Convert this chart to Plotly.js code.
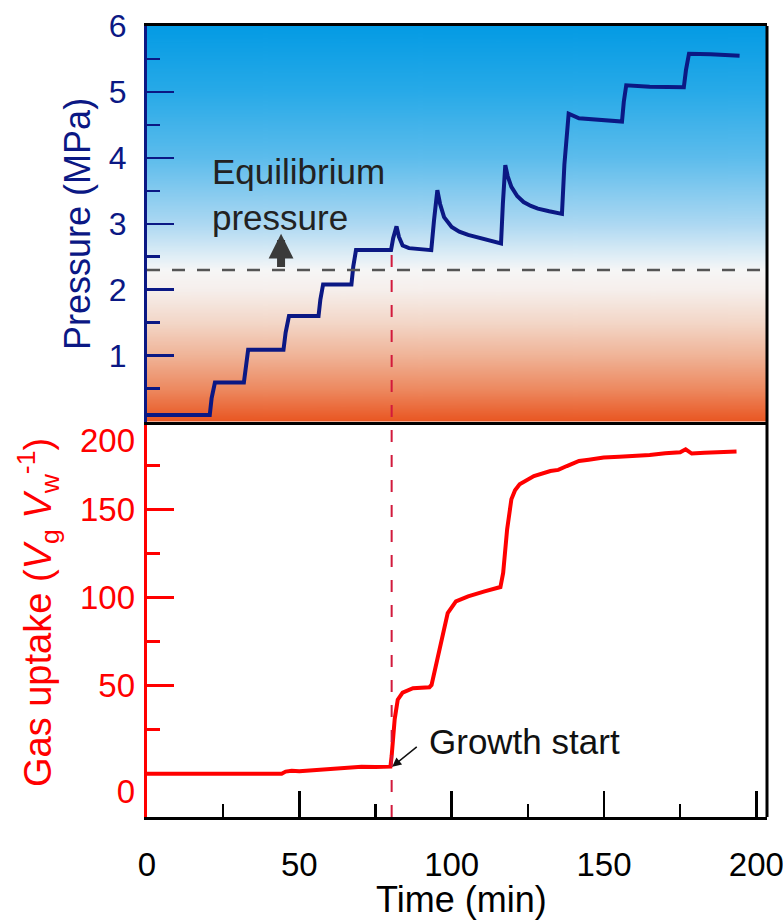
<!DOCTYPE html>
<html>
<head>
<meta charset="utf-8">
<script src="https://cdn.plot.ly/plotly-3.0.1.min.js"></script>
<style>
  html, body { margin: 0; padding: 0; background: #ffffff; }
  #chart { width: 783px; height: 921px; }
</style>
</head>
<body>
<div id="chart"></div>
<script>
// ---------------- data ----------------
const timeP = [0, 20.6, 21.2, 22.3, 31.8, 32.4, 33.2, 44.8, 45.5, 46.6, 56.3, 56.9, 57.8, 67.1, 67.7, 68.6,
  80.1, 80.8, 81.9, 82.7, 83.9, 86, 93.3, 94.2, 95.3, 96.2, 97.5, 100, 102.5, 105.4, 110, 116.2,
  116.8, 117.6, 118.4, 119.6, 121.5, 123.6, 126, 128.3, 132, 136.2, 137, 138.4, 141.8, 148, 155.9,
  156.5, 157.3, 165, 176.2, 176.9, 177.9, 185, 194.5];
const pressure = [0.10, 0.10, 0.35, 0.59, 0.59, 0.85, 1.09, 1.09, 1.35, 1.60, 1.60, 1.85, 2.08, 2.08, 2.35, 2.60,
  2.60, 2.78, 2.96, 2.80, 2.67, 2.63, 2.60, 3.05, 3.51, 3.30, 3.10, 2.95, 2.88, 2.83, 2.77, 2.70,
  3.30, 3.89, 3.72, 3.56, 3.42, 3.33, 3.27, 3.23, 3.19, 3.15, 3.90, 4.67, 4.60, 4.58, 4.55,
  4.85, 5.10, 5.08, 5.07, 5.33, 5.58, 5.57, 5.55];

const timeG = [0, 44.2, 45.5, 47.5, 50, 54.3, 58, 62.3, 66, 70.4, 75, 79.9, 80.3, 80.8, 81.3, 82.3, 83.9,
  87.3, 92.7, 93.4, 94.7, 96.7, 98.7, 101.4, 105.4, 110.8, 116, 116.9, 118.2, 119.6, 120.8, 122.3,
  127, 132.4, 135, 137.8, 141.8, 145, 149.9, 155, 159.3, 165, 170.1, 175, 176.8, 178.8, 183, 186.3, 190, 193.5];
const gasUptake = [0, 0, 1.2, 1.6, 1.4, 2.0, 2.3, 2.8, 3.2, 3.9, 3.8, 4.0, 10, 22, 31, 42, 46,
  48.5, 49.1, 50.4, 60.8, 76, 91.2, 97.8, 100.7, 103.5, 106, 114, 138.7, 155.8, 161, 164.3,
  169, 171.9, 172.5, 174.7, 177.6, 178.3, 179.5, 180, 180.4, 181, 182, 182.5, 184.2, 181.8, 182.3, 182.4, 182.6, 183];

const equilibriumPressure = 2.3;   // MPa
const growthStartTime = 80.3;      // min
const growthStartUptake = 4;       // Vg/Vw

const xTickVals = [0, 50, 100, 150, 200];
const pTickVals = [0, 1, 2, 3, 4, 5, 6];
const pTickText = ['', '1', '2', '3', '4', '5', '6'];
const gasLabelPos = [-10, 50, 100, 150, 189];
const gasLabelText = ['0', '50', '100', '150', '200'];

// ---------------- styling ----------------
const NAVY = '#0b1884';
const RED = '#ff0000';
const FONT = 'Liberation Sans, Arial, Helvetica, sans-serif';
const X_RANGE = [0, 203.5];
const P_RANGE = [0, 6];
const G_RANGE = [-24.6, 200];

// gradient background for the pressure panel
function gradientURL() {
  const c = document.createElement('canvas');
  c.width = 8; c.height = 600;
  const g = c.getContext('2d');
  const gr = g.createLinearGradient(0, 0, 0, 600);
  gr.addColorStop(0.000, 'rgb(4,155,228)');
  gr.addColorStop(0.167, 'rgb(40,170,232)');
  gr.addColorStop(0.333, 'rgb(92,188,236)');
  gr.addColorStop(0.500, 'rgb(172,216,242)');
  gr.addColorStop(0.583, 'rgb(224,238,246)');
  gr.addColorStop(0.617, 'rgb(246,246,246)');
  gr.addColorStop(0.667, 'rgb(246,239,236)');
  gr.addColorStop(0.750, 'rgb(243,215,200)');
  gr.addColorStop(0.833, 'rgb(240,180,152)');
  gr.addColorStop(0.917, 'rgb(237,138,97)');
  gr.addColorStop(1.000, 'rgb(233,86,34)');
  g.fillStyle = gr;
  g.fillRect(0, 0, 8, 600);
  return c.toDataURL('image/png');
}

const traces = [
  {
    x: timeP, y: pressure, xaxis: 'x2', yaxis: 'y',
    type: 'scatter', mode: 'lines',
    line: { color: NAVY, width: 4 },
    hoverinfo: 'skip', showlegend: false
  },
  {
    x: timeG, y: gasUptake, xaxis: 'x', yaxis: 'y2',
    type: 'scatter', mode: 'lines',
    line: { color: RED, width: 4 },
    hoverinfo: 'skip', showlegend: false
  },
  { // carries the gas-uptake tick labels axis
    x: [null], y: [null], xaxis: 'x', yaxis: 'y3',
    type: 'scatter', mode: 'lines', hoverinfo: 'skip', showlegend: false
  }
];

const pFrac = p => 0.5 + 0.5 * (p - P_RANGE[0]) / (P_RANGE[1] - P_RANGE[0]);

const layout = {
  width: 783, height: 921,
  margin: { l: 147, r: 16, t: 26, b: 104 },
  paper_bgcolor: '#ffffff',
  plot_bgcolor: 'rgba(0,0,0,0)',
  font: { family: FONT, color: '#000000', size: 32 },
  showlegend: false,
  xaxis: {
    domain: [0, 1], anchor: 'y2', range: X_RANGE,
    tickmode: 'array', tickvals: xTickVals,
    ticks: 'inside', ticklen: 26, tickwidth: 2.5, tickcolor: '#000',
    minor: { tickmode: 'linear', tick0: 0, dtick: 25, ticks: 'inside', ticklen: 13, tickwidth: 2.5, tickcolor: '#000', showgrid: false },
    showline: true, linecolor: '#000', linewidth: 3,
    showgrid: false, zeroline: false,
    tickfont: { size: 33, color: '#000' },
    ticklabelstandoff: 16, ticklabeloverflow: 'allow'
  },
  xaxis2: {
    domain: [0, 1], anchor: 'y', matches: 'x', range: X_RANGE,
    showticklabels: false, ticks: '',
    showline: true, linecolor: '#000', linewidth: 3, mirror: true,
    showgrid: false, zeroline: false
  },
  yaxis: {
    domain: [0.5, 1], anchor: 'x2', range: P_RANGE,
    tickmode: 'array', tickvals: pTickVals, ticktext: pTickText,
    ticks: 'inside', ticklen: 27, tickwidth: 2.5, tickcolor: NAVY,
    minor: { tickmode: 'linear', tick0: 0, dtick: 0.5, ticks: 'inside', ticklen: 13, tickwidth: 2.5, tickcolor: NAVY, showgrid: false },
    showline: true, linecolor: NAVY, linewidth: 3,
    showgrid: false, zeroline: false,
    tickfont: { size: 32, color: NAVY },
    ticklabelstandoff: 11, ticklabeloverflow: 'allow'
  },
  yaxis2: {
    domain: [0, 0.5], anchor: 'x', range: G_RANGE,
    tickmode: 'linear', tick0: 0, dtick: 50,
    ticks: 'inside', ticklen: 27, tickwidth: 2.5, tickcolor: RED,
    minor: { tickmode: 'linear', tick0: 0, dtick: 25, ticks: 'inside', ticklen: 13, tickwidth: 2.5, tickcolor: RED, showgrid: false },
    showline: true, linecolor: RED, linewidth: 3,
    showticklabels: false, showgrid: false, zeroline: false
  },
  yaxis3: {
    overlaying: 'y2', anchor: 'x', side: 'left', range: G_RANGE,
    tickmode: 'array', tickvals: gasLabelPos, ticktext: gasLabelText,
    ticks: '', showline: false, showgrid: false, zeroline: false,
    tickfont: { size: 33, color: RED },
    ticklabelstandoff: 11, ticklabeloverflow: 'allow'
  },
  images: [{
    source: gradientURL(), xref: 'paper', yref: 'paper',
    x: 0, y: 1, sizex: 1, sizey: 0.5, sizing: 'stretch',
    xanchor: 'left', yanchor: 'top', layer: 'below'
  }],
  shapes: [
    { // equilibrium pressure
      type: 'line', xref: 'paper', yref: 'y', x0: 0, x1: 1,
      y0: equilibriumPressure, y1: equilibriumPressure,
      line: { color: '#555555', width: 2.5, dash: '13px,12px' }, layer: 'above'
    },
    { // growth start
      type: 'line', xref: 'x', yref: 'paper', x0: growthStartTime, x1: growthStartTime,
      y0: 0, y1: pFrac(2.55),
      line: { color: '#d21a3c', width: 2, dash: '12px,13px' }, layer: 'above'
    },
    { // right border
      type: 'line', xref: 'paper', yref: 'paper', x0: 1, x1: 1, y0: 0, y1: 1,
      line: { color: '#000', width: 3 }, layer: 'above'
    }
  ],
  annotations: [
    { // axis titles
      xref: 'paper', yref: 'paper', x: -0.111, y: 0.75, xanchor: 'center', yanchor: 'middle',
      textangle: -90, text: 'Pressure (MPa)', showarrow: false,
      font: { size: 36, color: NAVY }
    },
    {
      xref: 'paper', yref: 'paper', x: -0.176, y: 0.259, xanchor: 'center', yanchor: 'middle',
      textangle: -90, text: 'Gas uptake (<i>V</i><sub>g</sub> <i>V</i><sub>w</sub><sup>-1</sup>)', showarrow: false,
      font: { size: 38, color: RED }
    },
    {
      xref: 'paper', yref: 'paper', x: 0.508, y: -0.1045, xanchor: 'center', yanchor: 'middle',
      text: 'Time (min)', showarrow: false,
      font: { size: 36, color: '#000' }
    },
    { // in-plot labels
      xref: 'x2', yref: 'y', x: 20.7, y: 3.45, xanchor: 'left', yanchor: 'middle',
      text: 'Equilibrium<br>pressure', align: 'left', showarrow: false,
      font: { size: 35, color: '#222222' }
    },
    {
      xref: 'x2', yref: 'y', x: 44, y: 2.85, axref: 'x2', ayref: 'y', ax: 44, ay: 2.32,
      text: '', showarrow: true, arrowhead: 2, arrowsize: 0.62, arrowwidth: 8, arrowcolor: '#3a3a3a'
    },
    {
      xref: 'x', yref: 'y2', x: 91.9, y: 18, xanchor: 'left', yanchor: 'middle',
      text: 'Growth start', showarrow: false,
      font: { size: 35, color: '#111111' }
    },
    {
      xref: 'x', yref: 'y2', x: growthStartTime + 0.2, y: growthStartUptake, ax: 26, ay: -21,
      text: '', showarrow: true, arrowhead: 2, arrowsize: 1.2, arrowwidth: 1.5, arrowcolor: '#111111'
    }
  ]
};

Plotly.newPlot('chart', traces, layout, { staticPlot: true, displayModeBar: false });
</script>
</body>
</html>
